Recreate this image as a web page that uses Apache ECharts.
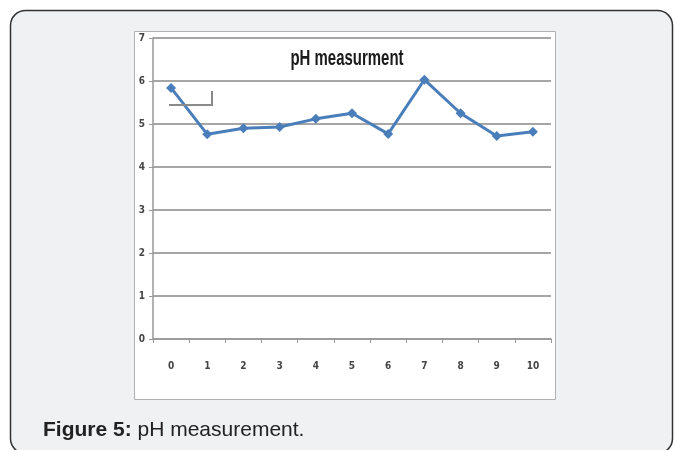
<!DOCTYPE html>
<html>
<head>
<meta charset="utf-8">
<script src="https://cdn.jsdelivr.net/npm/echarts@6/dist/echarts.min.js"></script>
<style>
html,body{margin:0;padding:0;background:#fff;}
#c{width:674px;height:450px;}
</style>
</head>
<body>
<div id="c"></div>
<script>
const categories = ['0','1','2','3','4','5','6','7','8','9','10'];
const phValues = [5.84, 4.76, 4.90, 4.93, 5.12, 5.25, 4.77, 6.03, 5.25, 4.72, 4.82];
const titleText = 'pH measurment';
const captionBold = 'Figure 5:';
const captionText = ' pH measurement.';

const chart = echarts.init(document.getElementById('c'), null, {renderer:'canvas'});
chart.setOption({
  backgroundColor: '#ffffff',
  animation: false,
  graphic: [
    { type:'rect', z:-10, shape:{x:10.5,y:10.5,width:662,height:443,r:15},
      style:{fill:'#f0f1f3', stroke:'#333', lineWidth:1.5} },
    { type:'rect', z:-9, shape:{x:134.5,y:31.5,width:421,height:368},
      style:{fill:'#ffffff', stroke:'#b0b0b0', lineWidth:1} },
    { type:'polyline', z:5, shape:{points:[[169,105],[212,105],[212,91]]},
      style:{stroke:'#8a8a8a', lineWidth:2, fill:null} },
    { type:'text', z:5, x:347, y:48, scaleX:0.68, scaleY:1,
      style:{text:titleText, x:0, y:0, textAlign:'center', textVerticalAlign:'top', fill:'#1a1a1a',
        font:'bold 22px "Liberation Sans", Arial, sans-serif'} },
    { type:'text', z:5, x:43, y:420,
      style:{x:0, y:0, text:'{b|'+captionBold+'}{n|'+captionText+'}',
        rich:{
          b:{fontWeight:'bold', fontSize:21, fontFamily:'"Liberation Sans", Arial, sans-serif', fill:'#222'},
          n:{fontSize:21, fontFamily:'"Liberation Sans", Arial, sans-serif', fill:'#222'}
        }} }
  ],
  grid: {left:153, right:123, top:38, bottom:111, containLabel:false},
  xAxis: {
    type:'category', data:categories, boundaryGap:true,
    axisLine:{show:true, lineStyle:{color:'#999', width:1.5}},
    axisTick:{show:true, alignWithLabel:false, length:4, lineStyle:{color:'#999'}},
    axisLabel:{margin:22, color:'#444', fontSize:10, fontWeight:'bold',
      fontFamily:'"DejaVu Sans Condensed", "Liberation Sans", sans-serif'},
    splitLine:{show:false}
  },
  yAxis: {
    type:'value', min:0, max:7, interval:1,
    axisLine:{show:true, lineStyle:{color:'#999', width:1.5}},
    axisTick:{show:true, length:4, lineStyle:{color:'#999'}},
    axisLabel:{margin:8, color:'#444', fontSize:10, fontWeight:'bold',
      fontFamily:'"DejaVu Sans Condensed", "Liberation Sans", sans-serif'},
    splitLine:{show:true, lineStyle:{color:'#a6a6a6', width:2}}
  },
  series: [{
    type:'line', data:phValues,
    symbol:'diamond', symbolSize:10,
    lineStyle:{color:'#4a7ebb', width:3},
    itemStyle:{color:'#4a7ebb'},
    z:3
  }]
});
</script>
</body>
</html>
